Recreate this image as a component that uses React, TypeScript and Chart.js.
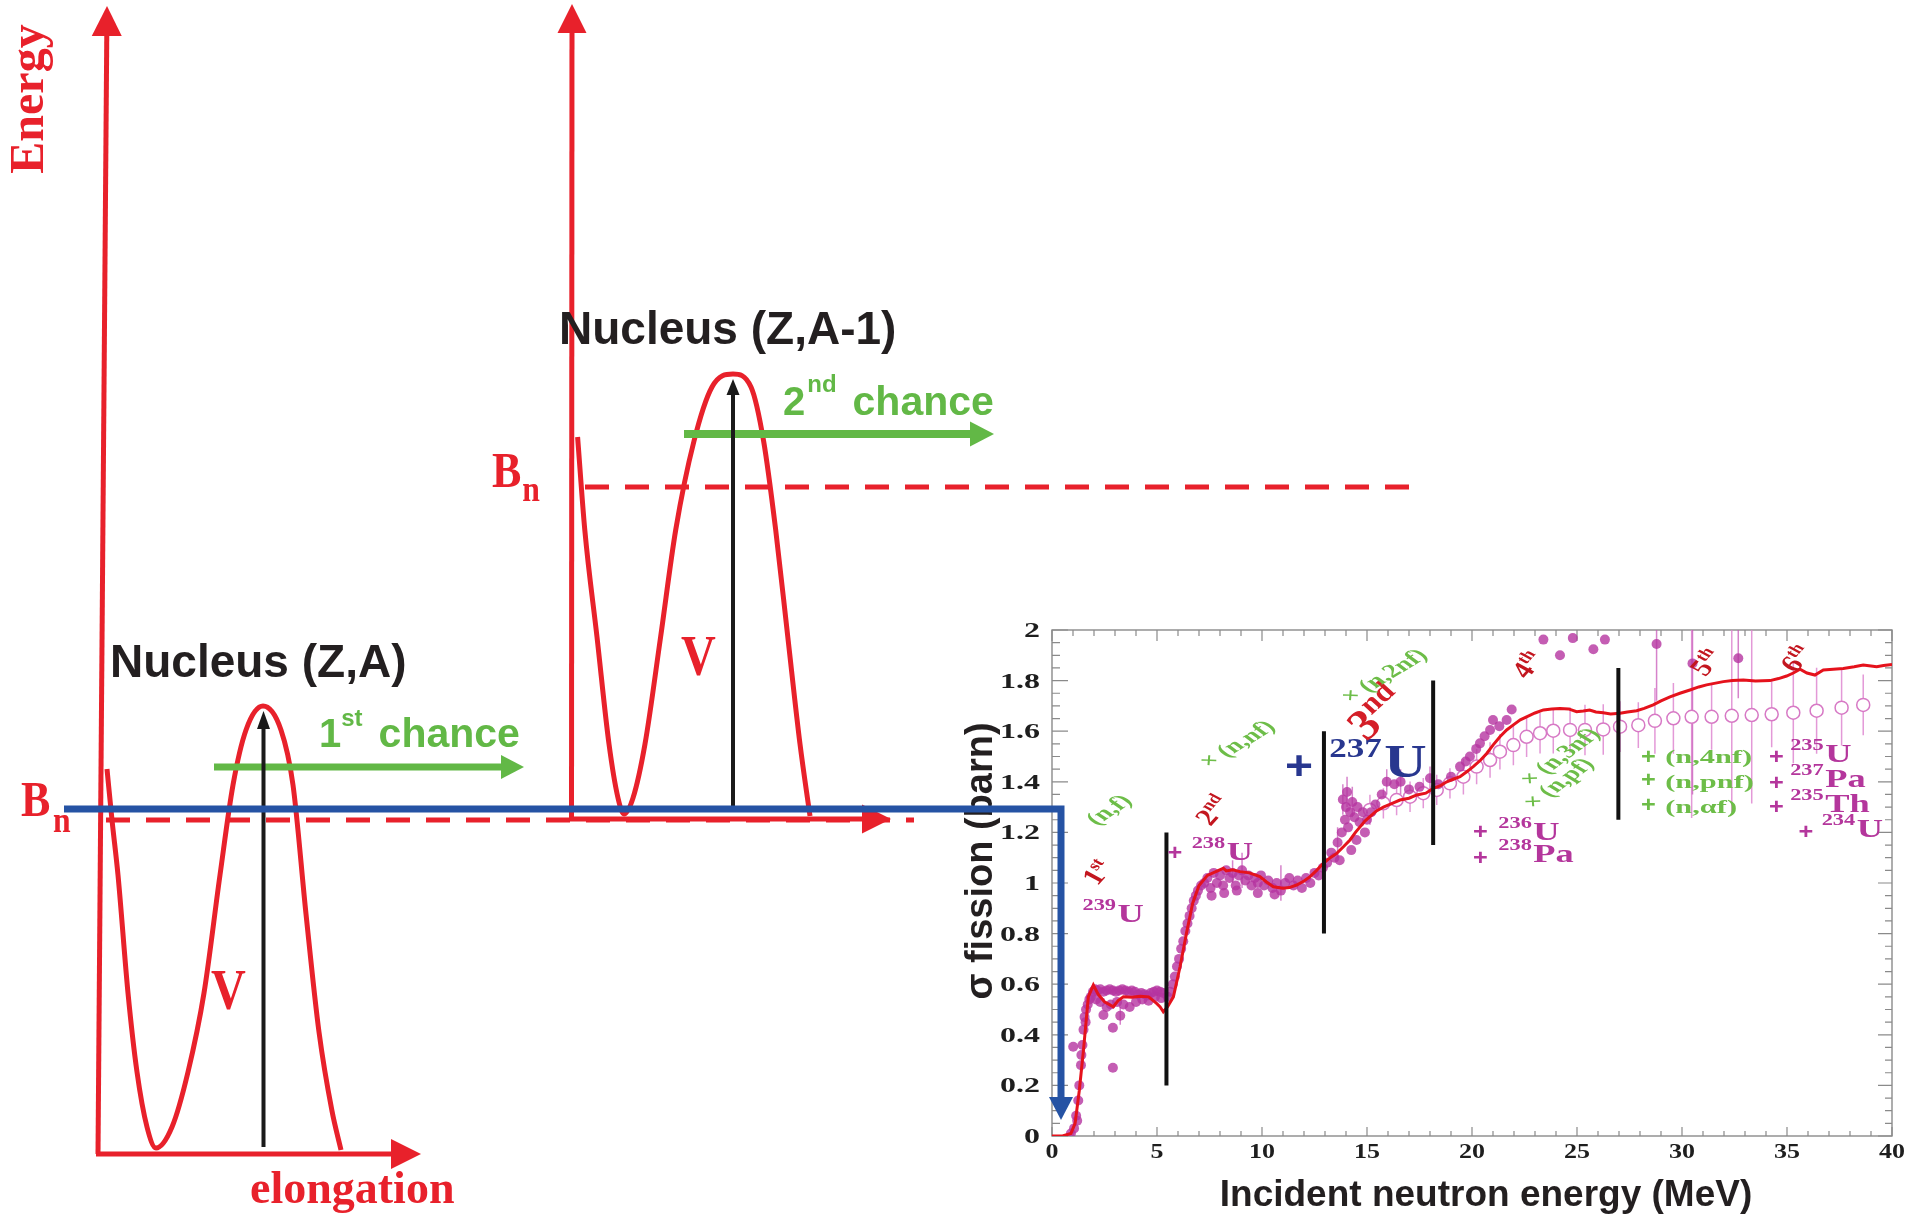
import React, { useEffect, useRef } from "react";
import { Chart, registerables } from "chart.js";

Chart.register(...registerables);

const PAGE_W = 1918;
const PAGE_H = 1216;

const SERIF = '"Liberation Serif", "Times New Roman", serif';
const SANS = '"Liberation Sans", Arial, Helvetica, sans-serif';

const RED = "#e8212b";
const GREEN = "#62b846";
const BLUE = "#2553a4";
const INK = "#231f20";

// ================= Schematic (left part) =================
// schematic frame: x grows with elongation (rightwards), y grows downwards (lower energy)
const WELL1_X = [107, 112, 118, 128, 137, 147, 156, 172, 188, 204, 220, 233, 246, 263, 281, 293, 306, 319, 332, 341];
const WELL1_Y = [769, 820, 875, 993, 1072, 1127, 1148, 1127, 1072, 993, 875, 785, 730, 706, 730, 785, 914, 1032, 1111, 1150];

const WELL2_X = [577.6, 584.8, 597, 609, 618, 624, 633, 645, 660.6, 675.7, 694, 712, 733, 751, 763.6, 775.7, 787.8, 800, 810];
const WELL2_Y = [437, 530, 637, 744, 798, 814, 798, 744, 637, 530, 441, 387, 374, 387, 441, 530, 637, 744, 816];

const BN_LOW_X = [106, 914];
const BN_LOW_Y = [820, 820];
const BN_HIGH_X = [585, 1412];
const BN_HIGH_Y = [487, 487];

const ENERGY_AXIS1_X = [98, 107];
const ENERGY_AXIS1_Y = [1154, 6];
const ELONG_AXIS1_X = [96, 421];
const ELONG_AXIS1_Y = [1154, 1154];
const ENERGY_AXIS2_X = [571.5, 572];
const ENERGY_AXIS2_Y = [821, 4];
const ELONG_AXIS2_X = [569, 891];
const ELONG_AXIS2_Y = [819, 819];
const CHANCE1_X = [214, 524];
const CHANCE1_Y = [767, 767];
const CHANCE2_X = [684, 994];
const CHANCE2_Y = [434, 434];
const BARRIER1_X = [263.5, 263.5];
const BARRIER1_Y = [1147, 711];
const BARRIER2_X = [733, 733];
const BARRIER2_Y = [807, 379];
const LINK_X = [64, 1061, 1061];
const LINK_Y = [809, 809, 1120];

type Piece = { t: string; font: string; dy?: number; gap?: number };
type Note = {
  x: number;
  y: number;
  color: string;
  pieces: Piece[];
  rot?: number;
  sx?: number;
  align?: "left" | "center" | "right";
  vshift?: number;
};

const SCHEMATIC_TEXTS: Note[] = [
  { x: 43, y: 99, rot: -90, align: "center", color: RED, pieces: [{ t: "Energy", font: `bold 48px ${SERIF}` }] },
  { x: 250, y: 1203, color: RED, pieces: [{ t: "elongation", font: `bold 46px ${SERIF}` }] },
  { x: 21, y: 816, color: RED, sx: 0.88, pieces: [{ t: "B", font: `bold 50px ${SERIF}` }, { t: "n", font: `bold 36px ${SERIF}`, dy: 16, gap: 3 }] },
  { x: 492, y: 487, color: RED, sx: 0.88, pieces: [{ t: "B", font: `bold 50px ${SERIF}` }, { t: "n", font: `bold 36px ${SERIF}`, dy: 14, gap: 1 }] },
  { x: 110, y: 677, color: INK, pieces: [{ t: "Nucleus (Z,A)", font: `bold 46px ${SANS}` }] },
  { x: 559, y: 344, color: INK, pieces: [{ t: "Nucleus (Z,A-1)", font: `bold 46px ${SANS}` }] },
  {
    x: 319, y: 747, color: GREEN,
    pieces: [
      { t: "1", font: `bold 40px ${SANS}` },
      { t: "st", font: `bold 24px ${SANS}`, dy: -21 },
      { t: "chance", font: `bold 41px ${SANS}`, gap: 16 },
    ],
  },
  {
    x: 783, y: 415, color: GREEN,
    pieces: [
      { t: "2", font: `bold 40px ${SANS}` },
      { t: "nd", font: `bold 24px ${SANS}`, dy: -23, gap: 2 },
      { t: "chance", font: `bold 41px ${SANS}`, gap: 16 },
    ],
  },
  { x: 211, y: 1009, color: RED, sx: 0.86, pieces: [{ t: "V", font: `bold 56px ${SERIF}` }] },
  { x: 681, y: 675, color: RED, sx: 0.86, pieces: [{ t: "V", font: `bold 56px ${SERIF}` }] },
];

// ================= Inset: fission cross section =================
const X_TICK_VALUES = [0, 5, 10, 15, 20, 25, 30, 35, 40];
const X_TICK_LABELS = ["0", "5", "10", "15", "20", "25", "30", "35", "40"];
const Y_TICK_VALUES = [0, 0.2, 0.4, 0.6, 0.8, 1, 1.2, 1.4, 1.6, 1.8, 2];
const Y_TICK_LABELS = ["0", "0.2", "0.4", "0.6", "0.8", "1", "1.2", "1.4", "1.6", "1.8", "2"];
const X_MINOR_STEP = 1;
const Y_MINOR_STEP = 0.05;

const EVAL_ENERGY = [
  0, 0.5, 0.9, 1.1, 1.3, 1.5, 1.73, 1.97, 2.2, 2.5,
  2.92, 3.15, 3.4, 3.8, 4.2, 4.6, 4.98, 5.15, 5.3, 5.5,
  5.78, 6.1, 6.4, 6.7, 7.0, 7.4, 7.8, 8.16, 8.3, 8.6,
  8.95, 9.4, 9.9, 10.2, 10.54, 11.0, 11.3, 11.65, 12.0, 12.29,
  12.6, 12.92, 13.25, 13.56, 13.9, 14.19, 14.45, 14.67, 14.9, 15.14,
  15.45, 15.78, 16.2, 16.57, 17.0, 17.37, 17.8, 18.16, 18.5, 18.8,
  19.1, 19.43, 19.75, 20.06, 20.4, 20.7, 21.0, 21.33, 21.65, 21.97,
  22.3, 22.6, 23.0, 23.4, 23.8, 24.19, 24.6, 24.98, 25.3, 25.6,
  25.9, 26.25, 26.6, 27.05, 27.4, 27.84, 28.2, 28.63, 29.0, 29.43,
  29.9, 30.38, 30.8, 31.17, 31.6, 31.97, 32.4, 32.92, 33.5, 34.19,
  34.6, 34.98, 35.3, 35.62, 35.95, 36.33, 36.73, 37.2, 37.68, 38.2,
  38.63, 39.0, 39.27, 39.6, 40.0,
];
const EVAL_SIGMA = [
  0, 0, 0.01, 0.05, 0.18, 0.34, 0.55, 0.597, 0.56, 0.53,
  0.511, 0.535, 0.55, 0.548, 0.552, 0.55, 0.524, 0.51, 0.491, 0.51,
  0.55, 0.67, 0.8, 0.92, 0.99, 1.03, 1.045, 1.058, 1.048, 1.052,
  1.045, 1.04, 1.025, 1.005, 0.985, 0.979, 0.982, 0.992, 1.008, 1.025,
  1.05, 1.078, 1.1, 1.117, 1.145, 1.17, 1.2, 1.222, 1.245, 1.262,
  1.285, 1.3, 1.315, 1.328, 1.335, 1.348, 1.355, 1.374, 1.385, 1.4,
  1.41, 1.42, 1.44, 1.46, 1.485, 1.512, 1.545, 1.578, 1.605, 1.625,
  1.645, 1.657, 1.672, 1.684, 1.688, 1.69, 1.688, 1.677, 1.68, 1.684,
  1.676, 1.673, 1.668, 1.671, 1.676, 1.681, 1.69, 1.704, 1.72, 1.736,
  1.75, 1.763, 1.775, 1.783, 1.79, 1.796, 1.8, 1.802, 1.798, 1.8,
  1.808, 1.818, 1.83, 1.845, 1.83, 1.822, 1.842, 1.845, 1.848, 1.855,
  1.862, 1.858, 1.855, 1.86, 1.864,
];

const EXP_ENERGY = [
  0.9, 1.05, 1.15, 1.2, 1.25, 1.3, 1.38, 1.4, 1.45, 1.5, 1.55, 1.6, 1.62, 1.7, 1.78, 1.85,
  1.01, 2.9, 2.9, 2.45, 3.25,
  1.95, 2.05, 2.15, 2.3, 2.45, 2.6, 2.75, 2.9, 3.05, 3.2, 3.35, 3.5, 3.65, 3.8, 3.95, 4.1, 4.25, 4.4, 4.55, 4.7, 4.85, 5.0, 5.15, 5.3,
  2.1, 2.3, 2.6, 2.8, 3.1, 3.4, 3.7, 4.0, 4.3, 4.6, 4.9, 5.2,
  5.5, 5.62, 5.75, 5.85, 5.95, 6.05, 6.15, 6.25, 6.35, 6.45, 6.55, 6.65, 6.75, 6.85, 6.95, 7.1, 7.25,
  7.4, 7.55, 7.7, 7.85, 8.0, 8.15, 8.3, 8.45, 8.6, 8.75, 8.9, 9.05, 9.2, 9.35, 9.5, 9.65, 9.8, 9.95,
  10.1, 10.3, 10.5, 10.7, 10.9, 11.1, 11.3, 11.5, 11.7, 11.9, 12.1, 12.3, 12.5, 12.7, 12.9,
  7.6, 8.2, 8.8, 9.8, 10.6,
  13.1, 13.3, 13.45, 13.6, 13.7, 13.8, 13.85, 13.95, 14.0, 14.05, 14.1, 14.2, 14.25, 14.3, 14.4, 14.5,
  14.55, 14.65, 14.8, 14.9, 15.0, 15.2, 15.4, 15.7, 15.94, 16.3, 16.6, 17.0, 17.5, 18.0, 18.4,
  19.0, 19.43, 19.7, 19.9, 20.2, 20.38, 20.6, 20.86, 21.0, 21.3, 21.65, 21.89,
  23.4, 24.19, 24.8, 25.78, 26.33, 28.79, 30.5, 32.68,
];
const EXP_SIGMA = [
  0.01, 0.03, 0.08, 0.06, 0.14, 0.2, 0.28, 0.32, 0.36, 0.42, 0.47, 0.45, 0.5, 0.52, 0.54, 0.55,
  0.353, 0.428, 0.27, 0.478, 0.475,
  0.57, 0.58, 0.575, 0.58, 0.57, 0.575, 0.58, 0.575, 0.57, 0.575, 0.58, 0.575, 0.57, 0.575, 0.57, 0.56, 0.565, 0.56, 0.555, 0.565, 0.57, 0.575, 0.57, 0.565,
  0.54, 0.53, 0.51, 0.52, 0.53, 0.52, 0.51, 0.53, 0.54, 0.535, 0.55, 0.545,
  0.55, 0.57, 0.6, 0.63, 0.67, 0.7, 0.74, 0.77, 0.81, 0.84, 0.87, 0.9, 0.93, 0.95, 0.97, 0.99, 1.0,
  1.02, 0.98, 1.04, 1.0, 1.03, 0.99, 1.05, 1.02, 1.04, 0.99, 1.03, 1.05, 1.01, 1.03, 0.99, 1.02, 1.0, 1.03,
  0.99, 1.01, 0.98, 1.0, 0.97, 1.0, 1.02, 0.99, 1.01, 0.98, 1.02, 1.0, 1.04, 1.03, 1.06,
  0.95, 0.96, 0.97, 0.96, 0.955,
  1.08, 1.12, 1.1, 1.16, 1.09, 1.2, 1.33, 1.25, 1.3, 1.36, 1.22, 1.28, 1.13, 1.32, 1.26, 1.17,
  1.3, 1.24, 1.28, 1.2, 1.25, 1.28, 1.31, 1.35, 1.4, 1.39, 1.4, 1.37, 1.38, 1.414, 1.39,
  1.42, 1.46, 1.48, 1.5, 1.53, 1.552, 1.58, 1.605, 1.644, 1.62, 1.644, 1.686,
  1.962, 1.9, 1.968, 1.924, 1.962, 1.945, 1.868, 1.888,
];

const EXP_BAR_ENERGY = [3.25, 8.6, 9.05, 10.9, 12.9, 13.6, 13.85, 14.05, 14.3, 15.94, 16.6, 18.0, 28.79, 30.5, 32.68];
const EXP_BAR_LOW = [0.44, 1.0, 0.98, 0.93, 1.01, 1.1, 1.27, 1.3, 1.26, 1.35, 1.35, 1.37, 1.72, 1.35, 1.73];
const EXP_BAR_HIGH = [0.51, 1.09, 1.12, 1.07, 1.11, 1.22, 1.39, 1.42, 1.38, 1.45, 1.45, 1.46, 2.05, 2.05, 2.05];

const OPEN_ENERGY = [
  15.14, 15.78, 16.41, 17.05, 17.68, 18.32, 18.95, 19.59, 20.22, 20.86,
  21.33, 21.97, 22.6, 23.24, 23.87, 24.67, 25.38, 26.25, 27.05, 27.92,
  28.71, 29.59, 30.46, 31.41, 32.37, 33.32, 34.27, 35.3, 36.41, 37.6, 38.63,
];
const OPEN_SIGMA = [
  1.289, 1.315, 1.328, 1.341, 1.355, 1.368, 1.394, 1.42, 1.46, 1.486,
  1.519, 1.545, 1.578, 1.592, 1.602, 1.605, 1.605, 1.607, 1.618, 1.624,
  1.641, 1.651, 1.657, 1.657, 1.661, 1.664, 1.667, 1.673, 1.681, 1.693, 1.704,
];
const OPEN_ERROR = [
  0.06, 0.06, 0.06, 0.06, 0.06, 0.06, 0.06, 0.07, 0.07, 0.07,
  0.07, 0.08, 0.08, 0.08, 0.09, 0.09, 0.1, 0.1, 0.1, 0.09,
  0.13, 0.14, 0.4, 0.13, 0.38, 0.35, 0.13, 0.2, 0.17, 0.15, 0.12,
];

const THRESHOLD_ENERGY = [5.45, 12.95, 18.15, 26.97];
const THRESHOLD_LOW = [0.2, 0.8, 1.15, 1.25];
const THRESHOLD_HIGH = [1.2, 1.6, 1.8, 1.85];

const IG = "#6dbd48";
const IM = "#b4369c";
const IR = "#c3161f";
const IR2 = "#d41e27";
const IB = "#28378f";
const sf = (size: number) => `bold ${size}px ${SERIF}`;

const plus = (x: number, y: number, color: string): Note => ({
  x, y, color, align: "center", sx: 1.15, vshift: 7, pieces: [{ t: "+", font: `bold 22px ${SANS}` }],
});
const iso = (x: number, y: number, mass: string, el: string): Note => ({
  x, y, color: IM, align: "left", sx: 1.4,
  pieces: [{ t: mass, font: sf(16), dy: -12 }, { t: el, font: sf(26), gap: 1 }],
});
const ordinal = (x: number, y: number, n: string, suf: string): Note => ({
  x, y, color: IR, align: "center", rot: -55, sx: 1.3, vshift: 7,
  pieces: [{ t: n, font: sf(24) }, { t: suf, font: sf(15), dy: -9 }],
});
const react = (x: number, y: number, t: string, rot: number): Note => ({
  x, y, color: IG, align: "center", rot, sx: 1.5, vshift: 6, pieces: [{ t, font: sf(19) }],
});
const chan = (x: number, y: number, t: string): Note => ({
  x, y, color: IG, align: "left", sx: 1.6, pieces: [{ t, font: sf(19) }],
});

const INSET_NOTES: Note[] = [
  react(2.7, 1.29, "(n,f)", -45),
  ordinal(2.2, 1.04, "1", "st"),
  iso(1.45, 0.846, "239", "U"),
  ordinal(7.7, 1.285, "2", "nd"),
  plus(5.85, 1.12, IM),
  iso(6.65, 1.091, "238", "U"),
  react(8.8, 1.55, "× (n,nf)", -42),
  { x: 11.76, y: 1.466, color: IB, align: "center", sx: 1.2, vshift: 14, pieces: [{ t: "+", font: `bold 40px ${SANS}` }] },
  {
    x: 13.2, y: 1.419, color: IB, align: "left", sx: 1.25,
    pieces: [{ t: "237", font: sf(28), dy: -20 }, { t: "U", font: sf(47), gap: 2 }],
  },
  {
    x: 15.5, y: 1.668, color: IR2, align: "center", rot: -45, sx: 1.1, vshift: 13,
    pieces: [{ t: "3", font: sf(44) }, { t: "nd", font: sf(29), dy: -16 }],
  },
  react(15.8, 1.82, "× (n,2nf)", -42),
  ordinal(22.7, 1.86, "4", "th"),
  react(24.17, 1.5, "× (n,3nf)", -48),
  react(24.1, 1.395, "× (n,pf)", -48),
  plus(20.4, 1.2, IM),
  iso(21.25, 1.17, "236", "U"),
  plus(20.4, 1.1, IM),
  iso(21.25, 1.083, "238", "Pa"),
  plus(28.4, 1.498, IG),
  chan(29.2, 1.474, "(n,4nf)"),
  plus(28.4, 1.408, IG),
  chan(29.2, 1.375, "(n,pnf)"),
  plus(28.4, 1.308, IG),
  chan(29.2, 1.277, "(n,αf)"),
  plus(34.5, 1.498, IM),
  iso(35.15, 1.478, "235", "U"),
  plus(34.5, 1.395, IM),
  iso(35.15, 1.379, "237", "Pa"),
  plus(34.5, 1.3, IM),
  iso(35.15, 1.28, "235", "Th"),
  plus(35.9, 1.2, IM),
  iso(36.65, 1.18, "234", "U"),
  ordinal(31.2, 1.87, "5", "th"),
  ordinal(35.5, 1.885, "6", "th"),
];

// ================= helpers =================
function drawNote(ctx: CanvasRenderingContext2D, px: number, py: number, n: Note) {
  ctx.save();
  ctx.translate(px, py);
  if (n.sx) ctx.scale(n.sx, 1);
  if (n.rot) ctx.rotate((n.rot * Math.PI) / 180);
  ctx.fillStyle = n.color;
  ctx.textBaseline = "alphabetic";
  ctx.textAlign = "left";
  let total = 0;
  const widths = n.pieces.map((p) => {
    ctx.font = p.font;
    const w = ctx.measureText(p.t).width;
    total += w + (p.gap || 0);
    return w;
  });
  let cx = n.align === "center" ? -total / 2 : n.align === "right" ? -total : 0;
  const by = n.vshift || 0;
  n.pieces.forEach((p, i) => {
    cx += p.gap || 0;
    ctx.font = p.font;
    ctx.fillText(p.t, cx, by + (p.dy || 0));
    cx += widths[i];
  });
  ctx.restore();
}

function drawArrow(ctx: CanvasRenderingContext2D, pts: { x: number; y: number }[], color: string, width: number, headLen: number, headWid: number) {
  const n = pts.length;
  const tip = pts[n - 1];
  const prev = pts[n - 2];
  const dx = tip.x - prev.x;
  const dy = tip.y - prev.y;
  const L = Math.hypot(dx, dy) || 1;
  const ux = dx / L;
  const uy = dy / L;
  const bx = tip.x - ux * headLen;
  const by = tip.y - uy * headLen;
  ctx.save();
  ctx.strokeStyle = color;
  ctx.lineWidth = width;
  ctx.lineJoin = "miter";
  ctx.lineCap = "butt";
  ctx.beginPath();
  ctx.moveTo(pts[0].x, pts[0].y);
  for (let i = 1; i < n - 1; i++) ctx.lineTo(pts[i].x, pts[i].y);
  ctx.lineTo(bx + ux * 3, by + uy * 3);
  ctx.stroke();
  ctx.fillStyle = color;
  ctx.beginPath();
  ctx.moveTo(tip.x, tip.y);
  ctx.lineTo(bx - (uy * headWid) / 2, by + (ux * headWid) / 2);
  ctx.lineTo(bx + (uy * headWid) / 2, by - (ux * headWid) / 2);
  ctx.closePath();
  ctx.fill();
  ctx.restore();
}

const zip = (xs: number[], ys: number[]) => xs.map((x, i) => ({ x, y: ys[i] }));
const segs = (xs: number[], lo: number[], hi: number[]) =>
  xs.flatMap((x, i) => [{ x, y: lo[i] }, { x, y: hi[i] }, { x, y: null as any }]);

type ArrowDef = { xs: number[]; ys: number[]; color: string; width: number; head: [number, number] };
const ARROWS: ArrowDef[] = [
  { xs: ENERGY_AXIS1_X, ys: ENERGY_AXIS1_Y, color: RED, width: 5, head: [30, 30] },
  { xs: ELONG_AXIS1_X, ys: ELONG_AXIS1_Y, color: RED, width: 5, head: [30, 30] },
  { xs: ENERGY_AXIS2_X, ys: ENERGY_AXIS2_Y, color: RED, width: 5, head: [29, 29] },
  { xs: ELONG_AXIS2_X, ys: ELONG_AXIS2_Y, color: RED, width: 5, head: [29, 29] },
  { xs: CHANCE1_X, ys: CHANCE1_Y, color: GREEN, width: 7, head: [23, 24] },
  { xs: CHANCE2_X, ys: CHANCE2_Y, color: GREEN, width: 8, head: [24, 25] },
  { xs: BARRIER1_X, ys: BARRIER1_Y, color: "#1a1a1a", width: 4, head: [18, 13] },
  { xs: BARRIER2_X, ys: BARRIER2_Y, color: "#1a1a1a", width: 4, head: [16, 13] },
  { xs: LINK_X, ys: LINK_Y, color: BLUE, width: 7, head: [23, 24] },
];

const schematicPlugin = {
  id: "schematicDecor",
  afterDatasetsDraw(chart: any) {
    const ctx = chart.ctx as CanvasRenderingContext2D;
    chart.data.datasets.forEach((ds: any, i: number) => {
      if (!ds.arrowDef) return;
      const meta = chart.getDatasetMeta(i);
      const pts = meta.data.map((p: any) => ({ x: p.x, y: p.y }));
      const a: ArrowDef = ds.arrowDef;
      drawArrow(ctx, pts, a.color, a.width, a.head[0], a.head[1]);
    });
  },
  afterDraw(chart: any) {
    const ctx = chart.ctx as CanvasRenderingContext2D;
    const xs = chart.scales.x;
    const ys = chart.scales.y;
    SCHEMATIC_TEXTS.forEach((n) => drawNote(ctx, xs.getPixelForValue(n.x), ys.getPixelForValue(n.y), n));
  },
};

const insetPlugin = {
  id: "insetDecor",
  beforeDatasetsDraw(chart: any) {
    const ctx = chart.ctx as CanvasRenderingContext2D;
    const { left, right, top, bottom } = chart.chartArea;
    const xs = chart.scales.x;
    const ys = chart.scales.y;
    ctx.save();
    ctx.strokeStyle = "#8a8a8a";
    ctx.lineWidth = 1.4;
    ctx.strokeRect(left, top, right - left, bottom - top);
    ctx.lineWidth = 1.2;
    ctx.beginPath();
    const xN = Math.round((xs.max - xs.min) / X_MINOR_STEP);
    for (let k = 0; k <= xN; k++) {
      const v = xs.min + k * X_MINOR_STEP;
      const px = xs.getPixelForValue(v);
      const major = X_TICK_VALUES.some((t) => Math.abs(t - v) < 1e-6);
      ctx.moveTo(px, bottom);
      ctx.lineTo(px, bottom - (major ? 9 : 5));
      ctx.moveTo(px, top);
      ctx.lineTo(px, top + (major ? 11 : 6));
    }
    const yN = Math.round((ys.max - ys.min) / Y_MINOR_STEP);
    for (let k = 0; k <= yN; k++) {
      const v = ys.min + k * Y_MINOR_STEP;
      const py = ys.getPixelForValue(v);
      const major = Y_TICK_VALUES.some((t) => Math.abs(t - v) < 1e-6);
      ctx.moveTo(left, py);
      ctx.lineTo(left + (major ? 16 : 8), py);
      ctx.moveTo(right, py);
      ctx.lineTo(right - (major ? 14 : 7), py);
    }
    ctx.stroke();
    ctx.restore();
  },
  afterDatasetsDraw(chart: any) {
    const ctx = chart.ctx as CanvasRenderingContext2D;
    const { left, bottom } = chart.chartArea;
    const xs = chart.scales.x;
    const ys = chart.scales.y;
    Y_TICK_VALUES.forEach((v, i) => {
      drawNote(ctx, left - 12, ys.getPixelForValue(v), {
        x: 0, y: 0, color: "#1e1e1e", align: "right", sx: 1.6, vshift: 7,
        pieces: [{ t: Y_TICK_LABELS[i], font: sf(20) }],
      });
    });
    X_TICK_VALUES.forEach((v, i) => {
      drawNote(ctx, xs.getPixelForValue(v), bottom + 22, {
        x: 0, y: 0, color: "#1e1e1e", align: "center", sx: 1.3,
        pieces: [{ t: X_TICK_LABELS[i], font: sf(20) }],
      });
    });
    drawNote(ctx, 1486, 1206, {
      x: 0, y: 0, color: INK, align: "center",
      pieces: [{ t: "Incident neutron energy (MeV)", font: `bold 37px ${SANS}` }],
    });
    drawNote(ctx, 992, 861, {
      x: 0, y: 0, color: INK, align: "center", rot: -90,
      pieces: [{ t: "σ fission (barn)", font: `bold 38px ${SANS}` }],
    });
    INSET_NOTES.forEach((n) => drawNote(ctx, xs.getPixelForValue(n.x), ys.getPixelForValue(n.y), n));
  },
};

function insetConfig(): any {
  return {
    type: "scatter",
    data: {
      datasets: [
        {
          label: "thresholds", data: segs(THRESHOLD_ENERGY, THRESHOLD_LOW, THRESHOLD_HIGH),
          showLine: true, spanGaps: false, borderColor: "#111111", borderWidth: 4, pointRadius: 0, order: 1,
        },
        {
          label: "evaluation", data: zip(EVAL_ENERGY, EVAL_SIGMA),
          showLine: true, borderColor: "#e5121c", borderWidth: 3, pointRadius: 0, order: 2,
        },
        {
          label: "experiment", data: zip(EXP_ENERGY, EXP_SIGMA), showLine: false,
          pointRadius: 5, backgroundColor: "rgba(181,52,160,0.8)", borderColor: "rgba(181,52,160,0.8)", borderWidth: 0, order: 3,
        },
        {
          label: "other evaluation", data: zip(OPEN_ENERGY, OPEN_SIGMA), showLine: false,
          pointRadius: 6.5, backgroundColor: "#ffffff", borderColor: "#d779c5", borderWidth: 1.5, order: 4,
        },
        {
          label: "experiment errors", data: segs(EXP_BAR_ENERGY, EXP_BAR_LOW, EXP_BAR_HIGH),
          showLine: true, spanGaps: false, borderColor: "rgba(200,90,185,0.75)", borderWidth: 1.5, pointRadius: 0, order: 5, clip: 0,
        },
        {
          label: "other errors",
          data: segs(OPEN_ENERGY, OPEN_SIGMA.map((s, i) => s - OPEN_ERROR[i]), OPEN_SIGMA.map((s, i) => s + OPEN_ERROR[i])),
          showLine: true, spanGaps: false, borderColor: "rgba(222,135,208,0.85)", borderWidth: 1.5, pointRadius: 0, order: 6, clip: 0,
        },
      ],
    },
    options: {
      responsive: false,
      animation: false,
      devicePixelRatio: 1,
      events: [],
      layout: { padding: { left: 1052, top: 630, right: PAGE_W - 1892, bottom: PAGE_H - 1136 } },
      plugins: { legend: { display: false }, tooltip: { enabled: false } },
      scales: {
        x: { type: "linear", min: 0, max: 40, display: false },
        y: { type: "linear", min: 0, max: 2, display: false },
      },
    },
    plugins: [insetPlugin],
  };
}

function schematicConfig(): any {
  const arrowSets = ARROWS.map((a, i) => ({
    label: `arrow${i}`, data: zip(a.xs, a.ys), showLine: false, pointRadius: 0, arrowDef: a,
  }));
  return {
    type: "scatter",
    data: {
      datasets: [
        {
          label: "Bn (Z,A)", data: zip(BN_LOW_X, BN_LOW_Y), showLine: true,
          borderColor: RED, borderWidth: 5, borderDash: [24, 16], pointRadius: 0, order: 3,
        },
        {
          label: "Bn (Z,A-1)", data: zip(BN_HIGH_X, BN_HIGH_Y), showLine: true,
          borderColor: RED, borderWidth: 5, borderDash: [24, 16], pointRadius: 0, order: 3,
        },
        {
          label: "V (Z,A)", data: zip(WELL1_X, WELL1_Y), showLine: true, cubicInterpolationMode: "monotone",
          borderColor: RED, borderWidth: 5, pointRadius: 0, order: 2,
        },
        {
          label: "V (Z,A-1)", data: zip(WELL2_X, WELL2_Y), showLine: true, cubicInterpolationMode: "monotone",
          borderColor: RED, borderWidth: 5, pointRadius: 0, order: 2,
        },
        ...arrowSets,
      ],
    },
    options: {
      responsive: false,
      animation: false,
      devicePixelRatio: 1,
      events: [],
      layout: { padding: 0 },
      plugins: { legend: { display: false }, tooltip: { enabled: false } },
      scales: {
        x: { type: "linear", min: 0, max: PAGE_W, display: false },
        y: { type: "linear", min: 0, max: PAGE_H, reverse: true, display: false },
      },
    },
    plugins: [schematicPlugin],
  };
}

export default function App() {
  const schemRef = useRef<HTMLCanvasElement>(null);
  const insetRef = useRef<HTMLCanvasElement>(null);
  useEffect(() => {
    const inset = new Chart(insetRef.current as HTMLCanvasElement, insetConfig());
    const schem = new Chart(schemRef.current as HTMLCanvasElement, schematicConfig());
    return () => {
      inset.destroy();
      schem.destroy();
    };
  }, []);
  return (
    <div style={{ position: "fixed", left: 0, top: 0, width: PAGE_W, height: PAGE_H, background: "#ffffff", overflow: "hidden" }}>
      <canvas ref={insetRef} width={PAGE_W} height={PAGE_H} style={{ position: "absolute", left: 0, top: 0, width: PAGE_W, height: PAGE_H }} />
      <canvas ref={schemRef} width={PAGE_W} height={PAGE_H} style={{ position: "absolute", left: 0, top: 0, width: PAGE_W, height: PAGE_H }} />
    </div>
  );
}
